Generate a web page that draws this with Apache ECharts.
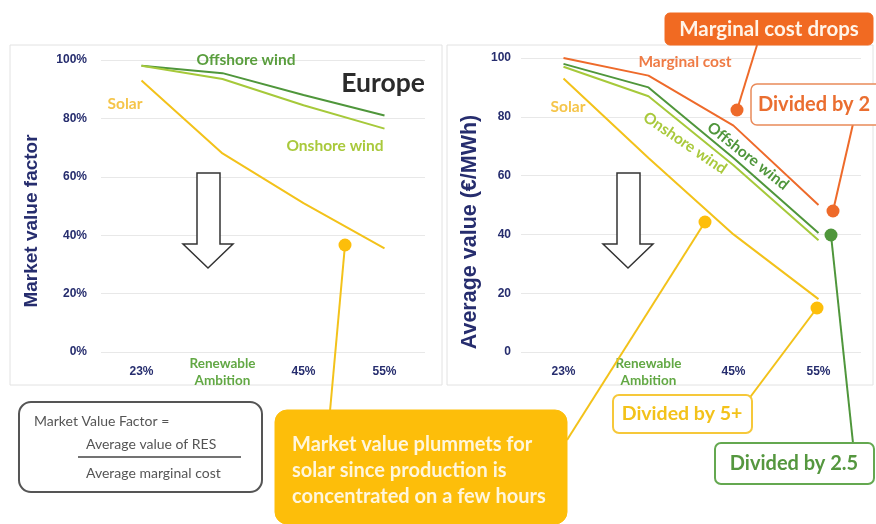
<!DOCTYPE html>
<html>
<head>
<meta charset="utf-8">
<script src="https://cdn.jsdelivr.net/npm/echarts@6/dist/echarts.min.js"></script>
<style>
html,body{margin:0;padding:0;background:#fff;}
#chart{width:876px;height:524px;}
</style>
</head>
<body>
<div id="chart"></div>
<script>
// ---- data ----
const categories = ['23%', 'Renewable Ambition', '45%', '55%'];
const leftOffshore = [98, 95.5, 88, 81];
const leftOnshore = [98, 93.5, 84.5, 76.5];
const leftSolar = [93, 68, 51, 35.5];
const rightMarginal = [100, 94, 77, 50];
const rightOffshore = [98, 90, 66, 40.5];
const rightOnshore = [97, 87, 63.5, 38];
const rightSolar = [93, 66, 40, 18];

// ---- styles ----
const NAVY = '#262d6e';
const DKGREEN = '#4f963b';
const LTGREEN = '#a6c93a';
const YELLOW = '#f3c21a';
const ORANGE = '#ee6a2a';
const BOXYEL = '#fdbe0a';
const CAL = 'Lato, "Open Sans", sans-serif';
const ARIAL = '"Liberation Sans", Arial, sans-serif';

const chart = echarts.init(document.getElementById('chart'));

function xAxisCfg(gridIndex) {
  return {
    type: 'category', gridIndex: gridIndex, data: categories, boundaryGap: true,
    axisLine: {show: false}, axisTick: {show: false},
    axisLabel: {
      margin: 20, verticalAlign: 'middle', interval: 0,
      color: NAVY, fontFamily: ARIAL, fontWeight: 'bold', fontSize: 12,
      formatter: function (v) {
        if (v === 'Renewable Ambition') return '{g|Renewable}\n{g|Ambition}';
        return v;
      },
      rich: {g: {color: '#62a844', fontFamily: CAL, fontWeight: 'bold', fontSize: 13.5, lineHeight: 17, align: 'center'}}
    }
  };
}
function yAxisCfg(gridIndex, fmt, margin) {
  return {
    type: 'value', gridIndex: gridIndex, min: 0, max: 100, interval: 20,
    axisLine: {show: false}, axisTick: {show: false},
    splitLine: {lineStyle: {color: '#e8e8e8', width: 1}},
    axisLabel: {margin: margin, color: NAVY, fontFamily: ARIAL, fontWeight: 'bold', fontSize: 12, formatter: fmt}
  };
}
function lineSeries(x, y, data, color) {
  return {type: 'line', xAxisIndex: x, yAxisIndex: y, data: data, symbol: 'none',
    lineStyle: {color: color, width: 2}, z: 5, silent: true};
}

function txt(x, y, text, fill, size, weight, family, align, rot) {
  return {type: 'text', x: x, y: y, rotation: rot || 0, z: 120,
    style: {text: text, fill: fill, fontSize: size, fontWeight: weight || 'bold', fontFamily: family || CAL,
      align: align || 'center', verticalAlign: 'middle'}};
}
function ln(x1, y1, x2, y2, color, w, z) {
  return {type: 'line', z: z || 100, shape: {x1: x1, y1: y1, x2: x2, y2: y2}, style: {stroke: color, lineWidth: w || 2}};
}
function dot(cx, cy, color) {
  return {type: 'circle', z: 115, shape: {cx: cx, cy: cy, r: 6.5}, style: {fill: color}};
}
function rbox(x, y, w, h, fill, stroke, lw, r) {
  return {type: 'rect', z: 110, shape: {x: x, y: y, width: w, height: h, r: r}, style: {fill: fill, stroke: stroke, lineWidth: lw}};
}
function arrow(cx) {
  return {type: 'polygon', z: 100, shape: {points: [
    [cx - 11, 173], [cx + 12, 173], [cx + 12, 244], [cx + 25, 244], [cx, 268], [cx - 25, 244], [cx - 11, 244]
  ]}, style: {fill: '#fff', stroke: '#333', lineWidth: 1.5}};
}

const option = {
  backgroundColor: '#fff',
  animation: false,
  grid: [
    {left: 101, top: 60, width: 324, height: 292},
    {left: 521, top: 58, width: 340, height: 294}
  ],
  xAxis: [xAxisCfg(0), xAxisCfg(1)],
  yAxis: [yAxisCfg(0, '{value}%', 14), yAxisCfg(1, '{value}', 10)],
  series: [
    lineSeries(0, 0, leftOffshore, DKGREEN),
    lineSeries(0, 0, leftOnshore, LTGREEN),
    lineSeries(0, 0, leftSolar, YELLOW),
    lineSeries(1, 1, rightMarginal, ORANGE),
    lineSeries(1, 1, rightOffshore, DKGREEN),
    lineSeries(1, 1, rightOnshore, LTGREEN),
    lineSeries(1, 1, rightSolar, YELLOW)
  ],
  graphic: [
    // panels
    {type: 'rect', z: -10, shape: {x: 10, y: 45, width: 432, height: 340}, style: {fill: '#fff', stroke: '#e2e2e2', lineWidth: 1}},
    {type: 'rect', z: -10, shape: {x: 447, y: 45, width: 426, height: 340}, style: {fill: '#fff', stroke: '#e2e2e2', lineWidth: 1}},
    // axis titles
    txt(32, 221, 'Market value factor', NAVY, 19, 'bold', ARIAL, 'center', Math.PI / 2),
    txt(470, 232, 'Average value (€/MWh)', NAVY, 21.5, 'bold', ARIAL, 'center', Math.PI / 2),
    // Europe
    txt(383, 83, 'Europe', '#2b2b2b', 26.5, 'bold', CAL, 'center'),
    // left series labels
    txt(246, 60, 'Offshore wind', '#5a9e3e', 15.5, 'bold'),
    txt(125, 104, 'Solar', '#f5c54a', 15.5, 'bold'),
    txt(335, 146, 'Onshore wind', '#a9c93c', 15.5, 'bold'),
    // right series labels
    txt(685, 62, 'Marginal cost', '#ef7b45', 15.5, 'bold'),
    txt(568, 107, 'Solar', '#f5c54a', 15.5, 'bold'),
    txt(685, 143, 'Onshore wind', '#a9c93c', 15.5, 'bold', CAL, 'center', -0.60),
    txt(748, 156, 'Offshore wind', '#4f963b', 15.5, 'bold', CAL, 'center', -0.67),
    // arrows
    arrow(208), arrow(628),
    // connector lines
    ln(757, 45, 737, 110, ORANGE),
    ln(853, 124, 833, 211, ORANGE),
    ln(831, 235, 853, 443, DKGREEN),
    ln(817, 308, 748, 400, YELLOW),
    ln(705, 222, 567, 440, YELLOW),
    ln(345, 245, 330, 411, YELLOW),
    // dots
    dot(737, 110, ORANGE),
    dot(833, 211, ORANGE),
    dot(831, 235, DKGREEN),
    dot(817, 308, BOXYEL),
    dot(705, 222, BOXYEL),
    dot(345, 245, BOXYEL),
    // boxes
    rbox(665, 13, 208, 32, '#f16a22', '#f16a22', 1, 5),
    txt(769, 29, 'Marginal cost drops', '#fff4e8', 20.5, 'bold'),
    rbox(751, 84, 130, 41, '#fff', '#e98a5a', 1.5, 6),
    txt(814, 105, 'Divided by 2', '#ea6e30', 20, 'bold'),
    rbox(613, 395, 139, 38, '#fff', '#f6c83a', 2, 6),
    txt(682, 414, 'Divided by 5+', '#f3c21a', 19.5, 'bold'),
    rbox(715, 443, 159, 41, '#fff', '#64a850', 2, 6),
    txt(794, 464, 'Divided by 2.5', '#55973f', 20, 'bold'),
    rbox(275, 410, 292, 114, BOXYEL, BOXYEL, 1, 12),
    txt(292, 445, 'Market value plummets for', '#fff6dc', 20, 'bold', CAL, 'left'),
    txt(292, 471, 'solar since production is', '#fff6dc', 20, 'bold', CAL, 'left'),
    txt(292, 497, 'concentrated on a few hours', '#fff6dc', 20, 'bold', CAL, 'left'),
    // formula box
    rbox(19, 402, 243, 90, '#fff', '#555', 2, 12),
    txt(34, 421, 'Market Value Factor =', '#555', 14, 'normal', CAL, 'left'),
    txt(86, 444, 'Average value of RES', '#555', 14, 'normal', CAL, 'left'),
    ln(78, 457, 241, 457, '#444', 1.5, 125),
    txt(86, 473, 'Average marginal cost', '#555', 14, 'normal', CAL, 'left')
  ]
};
chart.setOption(option);
</script>
</body>
</html>
